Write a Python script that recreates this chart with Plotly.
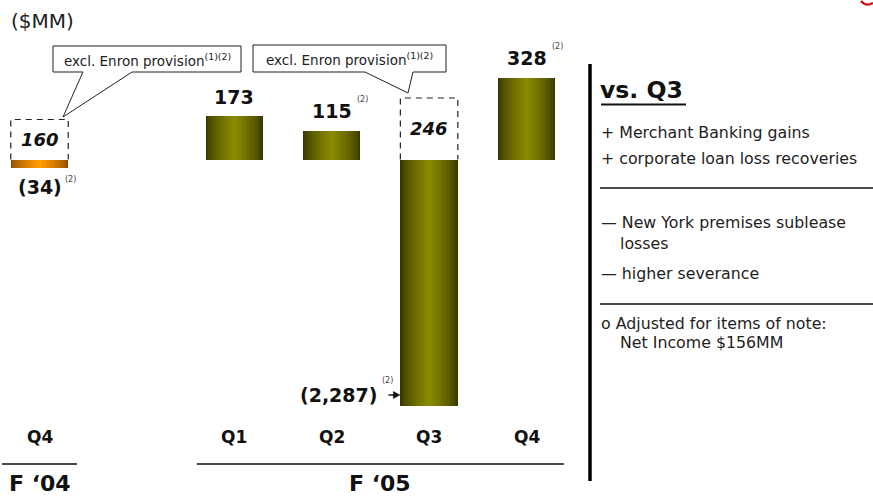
import plotly.graph_objects as go

# ---- data -----------------------------------------------------------------
quarters = ["Q4", "Q1", "Q2", "Q3", "Q4"]
fiscal_years = ["F \u201804", "F \u201805", "F \u201805", "F \u201805", "F \u201805"]
net_income = [-34, 173, 115, -2287, 328]          # reported, $MM
excl_enron = [160, None, None, 246, None]          # excl. Enron provision, $MM
footnotes = ["(2)", "", "(2)", "(2)", "(2)"]

unit_label = "($MM)"
callout_text = "excl. Enron provision"
callout_notes = "(1)(2)"
heading = "vs. Q3"
drivers_up = ["Merchant Banking gains", "corporate loan loss recoveries"]
drivers_down = [["New York premises sublease", "losses"], ["higher severance"]]
adjusted_note = ["Adjusted for items of note:", "Net Income $156MM"]

# ---- layout constants -----------------------------------------------------
W, H = 873, 497
PLOT_BOTTOM = 406          # px, bars are clipped here
BASE_PX = 159.5            # px of the zero line
PX_PER_MM = 0.25
SLOT_PX = 97.4
SLOT0_PX = 39.5
BAR_W = 0.59
FONT = "DejaVu Sans"
INK = "#111111"

# slot positions: one empty slot between fiscal years
positions = []
slot = 0
for i, fy in enumerate(fiscal_years):
    if i > 0 and fy != fiscal_years[i - 1]:
        slot += 1
    positions.append(slot)
    slot += 1

y_range = [-(PLOT_BOTTOM - BASE_PX) / PX_PER_MM, BASE_PX / PX_PER_MM]
x_range = [-SLOT0_PX / SLOT_PX, (W - SLOT0_PX) / SLOT_PX]


def px_x(p):
    return p / W


def px_y(p):
    return (PLOT_BOTTOM - p) / PLOT_BOTTOM


def hex_rgb(h):
    h = h.lstrip("#")
    return tuple(int(h[i:i + 2], 16) for i in (0, 2, 4))


def mix(a, b, t):
    ca, cb = hex_rgb(a), hex_rgb(b)
    return "rgb(%d,%d,%d)" % tuple(round(ca[i] + (cb[i] - ca[i]) * t) for i in range(3))


# edge / centre colours of each bar's cylinder shading
shade = {fiscal_years[0]: ("#8c4c00", "#ff9c00"), fiscal_years[-1]: ("#363600", "#8a8a00")}

fig = go.Figure()

# ---- shaded bars: stacked overlay layers, widest darkest ------------------
N_LAYERS = 22
for k in range(N_LAYERS):
    t = (k / (N_LAYERS - 1)) ** 0.7
    frac = 1 - k / N_LAYERS
    colors = [mix(shade[fy][0], shade[fy][1], t) for fy in fiscal_years]
    fig.add_trace(go.Bar(
        x=positions, y=net_income, width=[BAR_W * frac] * len(positions),
        marker=dict(color=colors, line=dict(width=0)),
        hoverinfo="skip", showlegend=False,
    ))

# ---- dashed outlines for the "excl. Enron" amounts ------------------------
for x, e in zip(positions, excl_enron):
    if e is None:
        continue
    x0, x1 = x - BAR_W / 2, x + BAR_W / 2
    fig.add_trace(go.Scatter(
        x=[x0, x0, x1, x1], y=[0, e, e, 0], mode="lines",
        line=dict(color="#222222", width=1.2, dash="6px,5px"),
        hoverinfo="skip", showlegend=False,
    ))

annotations = []
shapes = []


def text(t, x, y, size, xref="paper", yref="paper", xanchor="center", yanchor="middle",
         color=INK, xshift=0, yshift=0, **kw):
    annotations.append(dict(
        text=t, x=x, y=y, xref=xref, yref=yref, xanchor=xanchor, yanchor=yanchor,
        showarrow=False, xshift=xshift, yshift=yshift,
        font=dict(family=FONT, size=size, color=color), **kw))


# ---- value labels ---------------------------------------------------------
for x, v, note, e in zip(positions, net_income, footnotes, excl_enron):
    label = f"{v:,}" if v >= 0 else f"({-v:,})"
    if v >= 0:
        text(f"<b>{label}</b>", x, v, 19, "x", "y", yshift=19.5)
        if note:
            text(note, x, v, 8, "x", "y", color="#444", xshift=31, yshift=31)
    elif v > y_range[0]:
        text(f"<b>{label}</b>", x, v, 19, "x", "y", yshift=-19)
        if note:
            text(note, x, v, 8, "x", "y", color="#444", xshift=31, yshift=-11)
    else:
        # bar runs off the chart: label sits at its visible end with an arrow
        edge = x - BAR_W / 2
        text(f"<b>{label}</b>", edge, px_y(395), 19, "x", "paper",
             xanchor="right", xshift=-21)
        if note:
            text(note, edge, px_y(380), 8, "x", "paper", color="#444", xshift=-13)
        dx = 1 / SLOT_PX   # one pixel in data units
        shapes.append(dict(type="line", xref="x", yref="paper",
                           x0=edge - 12 * dx, x1=edge - 5 * dx, y0=px_y(395), y1=px_y(395),
                           line=dict(color=INK, width=1.4)))
        shapes.append(dict(type="path", xref="x", yref="paper",
                           path=(f"M {edge - 7 * dx},{px_y(391.5)} L {edge - 0.5 * dx},{px_y(395)} "
                                 f"L {edge - 7 * dx},{px_y(398.5)} Z"),
                           fillcolor=INK, line=dict(color=INK, width=0.5)))
    if e is not None:
        text(f"<b><i>{e:,}</i></b>", x, e / 2, 18, "x", "y")

# ---- quarter labels and fiscal-year groups --------------------------------
for x, q in zip(positions, quarters):
    text(f"<b>{q}</b>", x, px_y(437), 17, "x", "paper")

groups = {}
for x, fy in zip(positions, fiscal_years):
    groups.setdefault(fy, []).append(x)
for fy, xs in groups.items():
    shapes.append(dict(type="line", xref="x", yref="paper",
                       x0=min(xs) - 0.385, x1=max(xs) + 0.385,
                       y0=px_y(464), y1=px_y(464), line=dict(color=INK, width=1.3)))
    text(f"<b>{fy}</b>", (min(xs) + max(xs)) / 2, px_y(497), 22, "x", "paper",
         yanchor="bottom", borderpad=0)

# ---- unit label -----------------------------------------------------------
text(unit_label, px_x(9), px_y(21), 20, xanchor="left", color="#222")


# ---- callouts -------------------------------------------------------------
def callout(left, right, top, bottom, base_a, base_b, tip, cx):
    pts = [(left, top), (right, top), (right, bottom), (base_b, bottom), tip,
           (base_a, bottom), (left, bottom)]
    path = "M " + " L ".join(f"{px_x(a):.5f},{px_y(b):.5f}" for a, b in pts) + " Z"
    shapes.append(dict(type="path", xref="paper", yref="paper", path=path,
                       fillcolor="white", line=dict(color="#222", width=1)))
    text(f"{callout_text}<sup>{callout_notes}</sup>", px_x(cx), px_y((top + bottom) / 2 + 0.5),
         13.5, color="#222")


callout(53, 241, 46, 72, 83, 132, (63, 117), 147)
callout(253, 446, 45, 72, 365, 413, (408, 93), 349)

# ---- commentary panel -----------------------------------------------------
shapes.append(dict(type="line", xref="paper", yref="paper", x0=px_x(590), x1=px_x(590),
                   y0=px_y(64), y1=px_y(481), line=dict(color="black", width=3.5)))
text(f"<b>{heading}</b>", px_x(598), px_y(90), 23.5, xanchor="left", color="#111")
shapes.append(dict(type="line", xref="paper", yref="paper", x0=px_x(601), x1=px_x(686),
                   y0=px_y(104.5), y1=px_y(104.5), line=dict(color="#111", width=2)))

BODY = 15.8
ys = [132, 158]
for y, d in zip(ys, drivers_up):
    text(f"+ {d}", px_x(599), px_y(y), BODY, xanchor="left", color="#222")
shapes.append(dict(type="line", xref="paper", yref="paper", x0=px_x(600), x1=1,
                   y0=px_y(188), y1=px_y(188), line=dict(color="#111", width=1.4)))
y = 223
for lines in drivers_down:
    text(f"\u2014 {lines[0]}", px_x(599), px_y(y), BODY, xanchor="left", color="#222")
    for extra in lines[1:]:
        y += 20
        text(extra, px_x(618), px_y(y), BODY, xanchor="left", color="#222")
    y += 30
shapes.append(dict(type="line", xref="paper", yref="paper", x0=px_x(600), x1=1,
                   y0=px_y(304), y1=px_y(304), line=dict(color="#111", width=1.4)))
text(f"o {adjusted_note[0]}", px_x(599), px_y(323), BODY, xanchor="left", color="#222")
text(adjusted_note[1], px_x(618), px_y(342), BODY, xanchor="left", color="#222")

# small red corner mark
shapes.append(dict(type="path", xref="paper", yref="paper",
                   path=f"M {px_x(861)},{px_y(1)} Q {px_x(866)},{px_y(7)} {px_x(873)},{px_y(3)}",
                   line=dict(color="#cc1111", width=2.2)))

fig.update_layout(
    width=W, height=H,
    margin=dict(l=0, r=0, t=0, b=H - PLOT_BOTTOM),
    barmode="overlay", bargap=0,
    paper_bgcolor="white", plot_bgcolor="white",
    xaxis=dict(range=x_range, visible=False, fixedrange=True),
    yaxis=dict(range=y_range, visible=False, fixedrange=True),
    annotations=annotations, shapes=shapes,
    showlegend=False,
)

fig.write_html("out.html", config={"displayModeBar": False})
